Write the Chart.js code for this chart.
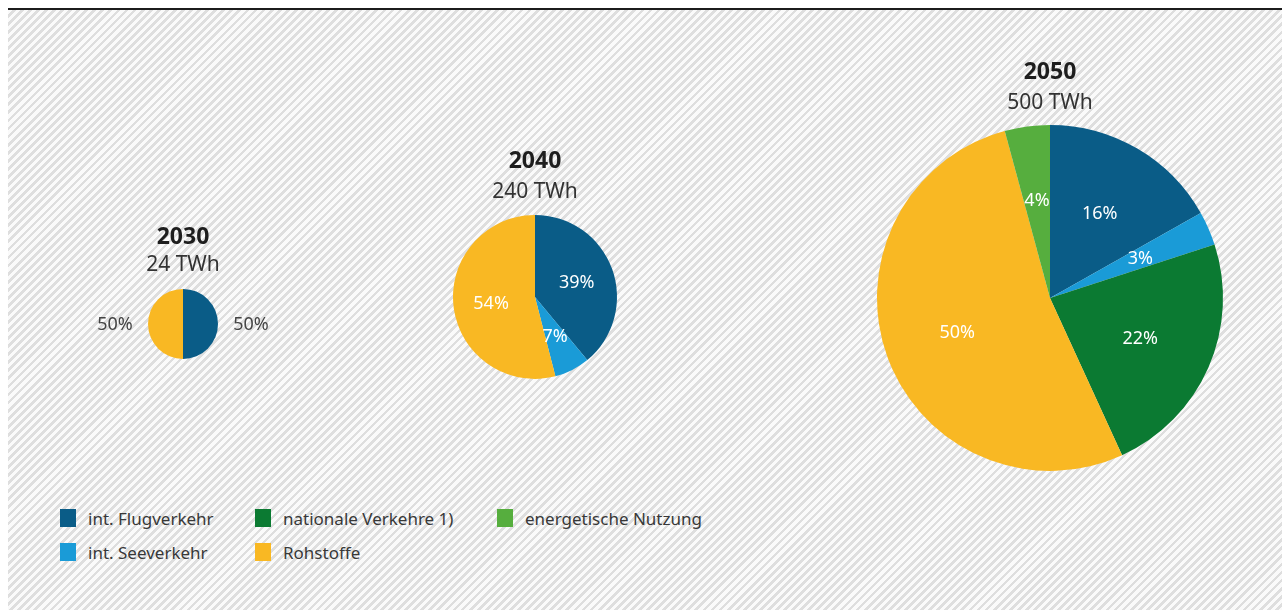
<!DOCTYPE html>
<html lang="de">
<head>
<meta charset="utf-8">
<title>Wasserstoffbedarf 2030 – 2050</title>
<script src="https://cdn.jsdelivr.net/npm/chart.js@4"></script>
<style>
  html, body { margin: 0; padding: 0; background: #fff; }
  body { width: 1282px; height: 610px; position: relative; overflow: hidden; font-family: 'Noto Sans', sans-serif; }
  #panel {
    position: absolute; left: 8px; top: 8px; right: 0; bottom: 0;
    border-top: 2px solid #1c1c1c;
    background: repeating-linear-gradient(135deg, #fafafa 0 3px, #dedede 3px 5.7px);
  }
  .pie { position: absolute; }
  #legend {
    position: absolute; left: 60px; top: 509px;
    display: grid; grid-template-columns: 195px 242px 220px; grid-template-rows: 34px 34px;
    grid-auto-flow: column;
  }
  .item { display: flex; align-items: center; height: 18px; font-size: 17px; color: #383838; white-space: nowrap; }
  .swatch { width: 16px; height: 18px; margin-right: 12px; flex: none; }
</style>
</head>
<body>
<div id="panel"></div>
<canvas id="pie2030" class="pie"></canvas>
<canvas id="pie2040" class="pie"></canvas>
<canvas id="pie2050" class="pie"></canvas>
<div id="legend"></div>

<script>
// categories in the order the slices run clockwise from 12 o'clock
var categories = ['int. Flugverkehr', 'int. Seeverkehr', 'nationale Verkehre 1)', 'Rohstoffe', 'energetische Nutzung'];
var colors = ['#0a5c87', '#1a9bd7', '#0b7a32', '#f9b823', '#56ae3e'];

var years = ['2030', '2040', '2050'];
var totals = ['24 TWh', '240 TWh', '500 TWh'];

// shares in percent per category
var shares2030 = [50, 0, 0, 50, 0];
var shares2040 = [39, 7, 0, 54, 0];
var shares2050 = [16, 3, 22, 50, 4];
var shares = [shares2030, shares2040, shares2050];

Chart.defaults.font.family = "'Noto Sans', sans-serif";

// canvas boxes and pie radius for each year
var boxes = [
    { id: 'pie2030', left: 63,  top: 224, width: 240, height: 146, r: 35,  gap: 1, labels: { outside: true,  distance: 33,   color: '#444' } },
    { id: 'pie2040', left: 415, top: 148, width: 240, height: 241, r: 82,  gap: 4, labels: { outside: false, distance: 0.54, color: '#fff' } },
    { id: 'pie2050', left: 850, top: 59,  width: 400, height: 421, r: 173, gap: 4, labels: { outside: false, distance: 0.57, color: '#fff' } }
];

// percent labels, inside the slice or just outside the rim
var sliceLabels = {
    id: 'sliceLabels',
    afterDatasetsDraw: function (chart, args, opts) {
        var ctx = chart.ctx;
        var meta = chart.getDatasetMeta(0);
        var values = chart.data.datasets[0].data;
        ctx.save();
        ctx.font = "18px 'Noto Sans', sans-serif";
        ctx.fillStyle = opts.color;
        ctx.textAlign = 'center';
        ctx.textBaseline = 'middle';
        meta.data.forEach(function (arc, i) {
            if (!values[i]) return;
            var p = arc.getProps(['x', 'y', 'startAngle', 'endAngle', 'outerRadius'], true);
            var mid = (p.startAngle + p.endAngle) / 2;
            var d = opts.outside ? p.outerRadius + opts.distance : p.outerRadius * opts.distance;
            ctx.fillText(values[i] + '%', p.x + Math.cos(mid) * d, p.y + Math.sin(mid) * d + 1);
        });
        ctx.restore();
    }
};

boxes.forEach(function (box, i) {
    var canvas = document.getElementById(box.id);
    canvas.width = box.width;
    canvas.height = box.height;
    canvas.style.left = box.left + 'px';
    canvas.style.top = box.top + 'px';

    new Chart(canvas, {
        type: 'pie',
        data: {
            labels: categories,
            datasets: [{
                data: shares[i],
                backgroundColor: colors,
                borderWidth: 0,
                hoverOffset: 0,
                radius: box.r
            }]
        },
        options: {
            responsive: false,
            animation: false,
            events: [],
            layout: { padding: 0 },
            plugins: {
                legend: { display: false },
                tooltip: { enabled: false },
                title: {
                    display: true, text: years[i], color: '#1e1e1e',
                    font: { size: 23, weight: 'bold', lineHeight: 1.2 },
                    padding: { top: 0, bottom: box.gap }
                },
                subtitle: {
                    display: true, text: totals[i], color: '#333',
                    font: { size: 21, lineHeight: 1.2 },
                    padding: 0
                },
                sliceLabels: box.labels
            }
        },
        plugins: [sliceLabels]
    });
});

// shared legend, two rows filled column by column
var legend = document.getElementById('legend');
categories.forEach(function (name, i) {
    var item = document.createElement('div');
    item.className = 'item';
    var sw = document.createElement('span');
    sw.className = 'swatch';
    sw.style.background = colors[i];
    item.appendChild(sw);
    item.appendChild(document.createTextNode(name));
    legend.appendChild(item);
});
</script>
</body>
</html>
